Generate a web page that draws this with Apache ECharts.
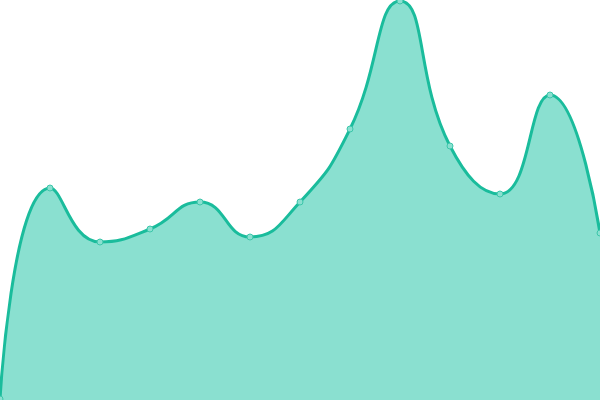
<!DOCTYPE html>
<html><head><meta charset="utf-8">
<script src="https://cdn.jsdelivr.net/npm/echarts@6/dist/echarts.min.js"></script>
<style>html,body{margin:0;padding:0;background:#fff}#c{width:600px;height:400px}</style>
</head><body><div id="c"></div>
<script>
const categories = ['1','2','3','4','5','6','7','8','9','10','11','12','13'];
const values = [1, 212, 158, 171, 198, 163, 198, 271, 399, 254, 206, 305, 167];
const chart = echarts.init(document.getElementById('c'));
chart.setOption({
  animation: false,
  grid: {left: 0, right: 0, top: 0, bottom: 0},
  xAxis: {type: 'category', data: categories, boundaryGap: false, show: false},
  yAxis: {type: 'value', min: 0, max: 400, show: false},
  series: [{
    type: 'line',
    data: values,
    smooth: true,
    symbol: 'circle',
    symbolSize: 6,
    lineStyle: {color: '#1abc9c', width: 3},
    itemStyle: {color: '#8ae0d0', borderColor: '#3cc6aa', borderWidth: 1},
    areaStyle: {color: '#8ae0d0', opacity: 1}
  }]
});
</script></body></html>
